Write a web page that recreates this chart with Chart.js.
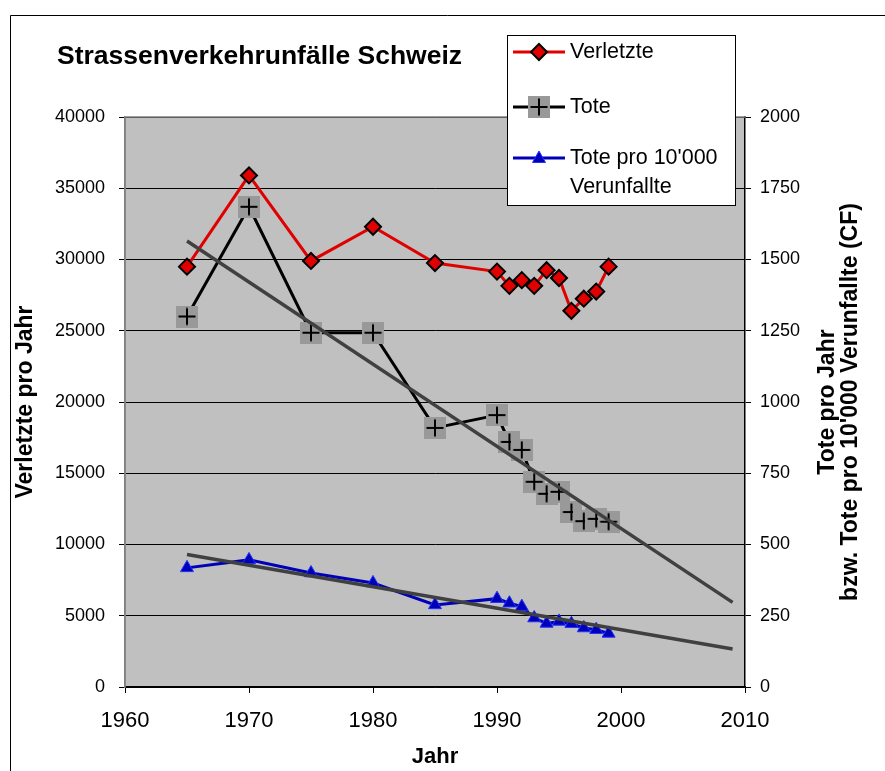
<!DOCTYPE html>
<html>
<head>
<meta charset="utf-8">
<script src="https://cdn.jsdelivr.net/npm/chart.js@4/dist/chart.umd.min.js"></script>
<style>
  html, body { margin: 0; padding: 0; background: #fff; }
  #wrap { position: relative; width: 885px; height: 771px; }
</style>
</head>
<body>
<div id="wrap"><canvas id="c" width="885" height="771"></canvas></div>
<script>
// ---- data ----
const years = [1965, 1970, 1975, 1980, 1985, 1990, 1991, 1992, 1993, 1994, 1995, 1996, 1997, 1998, 1999];
const verletzte = [29500, 35900, 29900, 32300, 29750, 29150, 28150, 28550, 28150, 29250, 28700, 26400, 27250, 27750, 29500];
const tote = [1300, 1685, 1243, 1243, 909, 954, 860, 832, 720, 678, 685, 614, 582, 590, 580];
const totePro10000 = [418, 446, 400, 365, 288, 310, 294, 282, 242, 223, 230, 222, 207, 201, 188];
const trendYears = [1965, 2009];
const toteTrend = [1565, 297];
const rateTrend = [465, 133];

const seriesNames = ['Verletzte', 'Tote', "Tote pro 10'000", 'Verunfallte'];
const chartTitle = 'Strassenverkehrunfälle Schweiz';
const xTitle = 'Jahr';
const yTitle = 'Verletzte pro Jahr';
const y2Title1 = 'Tote pro Jahr';
const y2Title2 = "bzw. Tote pro 10'000 Verunfallte (CF)";

const FONT = "'Liberation Sans', Arial, sans-serif";
const RED = '#E00000';
const BLUE = '#0000B8';

function pts(xs, ys) { return xs.map((x, i) => ({ x: x, y: ys[i] })); }

// marker for "Tote": grey square with black plus
function makeToteMarker() {
  const c = document.createElement('canvas');
  c.width = 22; c.height = 22;
  const g = c.getContext('2d');
  g.fillStyle = '#999999';
  g.fillRect(0, 0, 22, 22);
  g.strokeStyle = '#000';
  g.lineWidth = 2;
  g.beginPath();
  g.moveTo(2.5, 11); g.lineTo(19.5, 11);
  g.moveTo(11, 2.5); g.lineTo(11, 19.5);
  g.stroke();
  return c;
}
const toteMarker = makeToteMarker();

const decorPlugin = {
  id: 'decor',
  beforeDraw(chart) {
    const { ctx, chartArea: a } = chart;
    ctx.save();
    ctx.fillStyle = '#fff';
    ctx.fillRect(0, 0, chart.width, chart.height);
    ctx.fillStyle = '#C0C0C0';
    ctx.fillRect(a.left, a.top, a.right - a.left, a.bottom - a.top);
    // outer frame
    ctx.strokeStyle = '#000';
    ctx.lineWidth = 1;
    ctx.beginPath();
    ctx.moveTo(10.5, chart.height); ctx.lineTo(10.5, 15.5); ctx.lineTo(chart.width, 15.5);
    ctx.stroke();
    ctx.restore();
  },
  beforeDatasetsDraw(chart) {
    const { ctx, chartArea: a } = chart;
    ctx.save();
    ctx.strokeStyle = '#808080';
    ctx.lineWidth = 1.5;
    ctx.beginPath();
    ctx.moveTo(a.left, a.bottom); ctx.lineTo(a.left, a.top); ctx.lineTo(a.right, a.top);
    ctx.stroke();
    ctx.restore();
  },
  afterDraw(chart) {
    const { ctx, chartArea: a } = chart;
    ctx.save();
    ctx.fillStyle = '#000';
    // title
    ctx.font = 'bold 26.5px ' + FONT;
    ctx.textAlign = 'left';
    ctx.textBaseline = 'middle';
    ctx.fillText(chartTitle, 57, 57);
    // x title
    ctx.font = 'bold 22px ' + FONT;
    ctx.textAlign = 'center';
    ctx.fillText(xTitle, (a.left + a.right) / 2, 757);
    // left title
    ctx.save();
    ctx.translate(26, (a.top + a.bottom) / 2);
    ctx.rotate(-Math.PI / 2);
    ctx.font = 'bold 23px ' + FONT;
    ctx.fillText(yTitle, 0, 0);
    ctx.restore();
    // right titles
    ctx.save();
    ctx.translate(828, (a.top + a.bottom) / 2);
    ctx.rotate(-Math.PI / 2);
    ctx.font = 'bold 23px ' + FONT;
    ctx.fillText(y2Title1, 0, 0);
    ctx.restore();
    ctx.save();
    ctx.translate(851, (a.top + a.bottom) / 2);
    ctx.rotate(-Math.PI / 2);
    ctx.font = 'bold 23px ' + FONT;
    ctx.fillText(y2Title2, 0, 0);
    ctx.restore();

    // legend box
    const L = 507, T = 35, R = 735, B = 205;
    ctx.fillStyle = '#fff';
    ctx.fillRect(L, T, R - L, B - T);
    ctx.strokeStyle = '#000';
    ctx.lineWidth = 1;
    ctx.strokeRect(L + 0.5, T + 0.5, R - L, B - T);
    const rows = [52, 107, 158];
    const colors = [RED, '#000', BLUE];
    for (let i = 0; i < 3; i++) {
      const y = rows[i];
      ctx.strokeStyle = colors[i];
      ctx.lineWidth = 3;
      ctx.beginPath(); ctx.moveTo(513, y); ctx.lineTo(565, y); ctx.stroke();
    }
    // diamond
    ctx.beginPath();
    ctx.moveTo(539 - 8, 52); ctx.lineTo(539, 44); ctx.lineTo(539 + 8, 52); ctx.lineTo(539, 60); ctx.closePath();
    ctx.fillStyle = RED; ctx.fill();
    ctx.strokeStyle = '#000'; ctx.lineWidth = 2; ctx.stroke();
    // tote marker
    ctx.drawImage(toteMarker, 539 - 11, 107 - 11);
    // triangle
    ctx.beginPath();
    ctx.moveTo(539, 158 - 7); ctx.lineTo(539 + 6.5, 158 + 4.5); ctx.lineTo(539 - 6.5, 158 + 4.5); ctx.closePath();
    ctx.fillStyle = BLUE; ctx.fill();
    ctx.strokeStyle = '#2030FF'; ctx.lineWidth = 1; ctx.stroke();
    // legend text
    ctx.fillStyle = '#000';
    ctx.font = '21.5px ' + FONT;
    ctx.textAlign = 'left';
    ctx.textBaseline = 'middle';
    ctx.fillText(seriesNames[0], 570, 52);
    ctx.fillText(seriesNames[1], 570, 107);
    ctx.fillText(seriesNames[2], 570, 158);
    ctx.fillText(seriesNames[3], 570, 187);
    ctx.restore();
  }
};

new Chart(document.getElementById('c'), {
  type: 'line',
  data: {
    datasets: [
      {
        label: 'Trend Tote', data: pts(trendYears, toteTrend), yAxisID: 'y2',
        borderColor: '#404040', borderWidth: 3.5, pointRadius: 0, order: 0
      },
      {
        label: 'Trend Tote pro 10000', data: pts(trendYears, rateTrend), yAxisID: 'y2',
        borderColor: '#404040', borderWidth: 3.5, pointRadius: 0, order: 0
      },
      {
        label: seriesNames[0], data: pts(years, verletzte), yAxisID: 'y',
        borderColor: RED, borderWidth: 3, pointStyle: 'rectRot', pointRadius: 8,
        pointBackgroundColor: RED, pointBorderColor: '#000', pointBorderWidth: 2, order: 1
      },
      {
        label: seriesNames[1], data: pts(years, tote), yAxisID: 'y2',
        borderColor: '#000', borderWidth: 3, pointStyle: toteMarker, order: 2
      },
      {
        label: seriesNames[2] + ' ' + seriesNames[3], data: pts(years, totePro10000), yAxisID: 'y2',
        borderColor: BLUE, borderWidth: 3, pointStyle: 'triangle', pointRadius: 7.5,
        pointBackgroundColor: BLUE, pointBorderColor: '#2030FF', pointBorderWidth: 1, order: 3
      }
    ]
  },
  options: {
    responsive: false,
    animation: false,
    devicePixelRatio: 1,
    layout: { padding: { top: 117, left: 0, right: 0, bottom: 0 } },
    plugins: { legend: { display: false }, title: { display: false }, tooltip: { enabled: false } },
    elements: { line: { tension: 0 } },
    scales: {
      x: {
        type: 'linear', position: 'bottom', min: 1960, max: 2010,
        afterFit(s) { s.height = 84; },
        ticks: { stepSize: 10, color: '#000', font: { family: FONT, size: 22 }, padding: 15,
                 callback: v => String(v), maxRotation: 0 },
        grid: { drawOnChartArea: false, drawTicks: true, tickLength: 6, color: '#000' },
        border: { display: true, color: '#000', width: 1.5 }
      },
      y: {
        type: 'linear', position: 'left', min: 0, max: 40000,
        afterFit(s) { s.width = 125; },
        ticks: { stepSize: 5000, color: '#000', font: { family: FONT, size: 18 }, padding: 14,
                 callback: v => String(v) },
        grid: { drawOnChartArea: true, drawTicks: true, tickLength: 6, color: '#000', lineWidth: 1 },
        border: { display: true, color: '#808080', width: 1.5 }
      },
      y2: {
        type: 'linear', position: 'right', min: 0, max: 2000,
        afterFit(s) { s.width = 140; },
        ticks: { stepSize: 250, color: '#000', font: { family: FONT, size: 18 }, padding: 9,
                 callback: v => String(v) },
        grid: { drawOnChartArea: false, drawTicks: true, tickLength: 6, color: '#000' },
        border: { display: true, color: '#000', width: 1.5 }
      }
    }
  },
  plugins: [decorPlugin]
});
</script>
</body>
</html>
